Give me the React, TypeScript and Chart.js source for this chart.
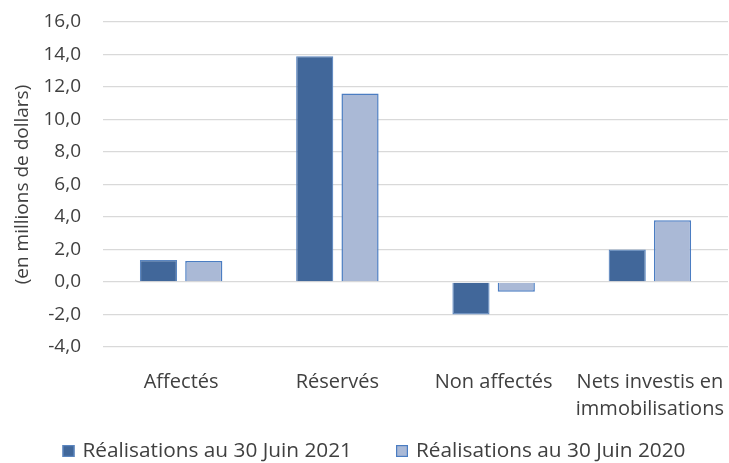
import React, { useEffect, useRef } from "react";
import { Chart, registerables } from "chart.js";

Chart.register(...registerables);

const categories: (string | string[])[] = [
  "Affectés",
  "Réservés",
  "Non affectés",
  ["Nets investis en", "immobilisations"],
];
const series2021 = [1.35, 13.9, -2.0, 2.0];
const series2020 = [1.3, 11.6, -0.6, 3.8];
const seriesLabels = ["Réalisations au 30 Juin 2021", "Réalisations au 30 Juin 2020"];
const yMin = -4;
const yMax = 16;
const yStep = 2;
const yTitle = "(en millions de dollars)";

const FONT = "'Open Sans', 'Noto Sans', sans-serif";
const TEXT = "#404040";

const bottomLegend = {
  id: "bottomLegend",
  afterDraw(chart: any) {
    const ctx = chart.ctx as CanvasRenderingContext2D;
    const items = chart.data.datasets.map((d: any) => ({
      text: d.label as string,
      fill: d.backgroundColor as string,
      stroke: d.borderColor as string,
    }));
    ctx.save();
    ctx.font = `20.8px ${FONT}`;
    const box = 12;
    const gapBoxText = 8;
    const gapItems = 44;
    const widths = items.map((it: any) => box + gapBoxText + ctx.measureText(it.text).width);
    const total = widths.reduce((a: number, b: number) => a + b, 0) + gapItems * (items.length - 1);
    let x = 374 - total / 2;
    const cy = 451;
    ctx.textBaseline = "middle";
    ctx.textAlign = "left";
    items.forEach((it: any, i: number) => {
      ctx.fillStyle = it.fill;
      ctx.fillRect(x, cy - box / 2, box, box);
      ctx.strokeStyle = it.stroke;
      ctx.lineWidth = 1.2;
      ctx.strokeRect(x + 0.6, cy - box / 2 + 0.6, box - 1.2, box - 1.2);
      ctx.fillStyle = TEXT;
      ctx.fillText(it.text, x + box + gapBoxText, cy);
      x += widths[i] + gapItems;
    });
    ctx.restore();
  },
};

export default function App() {
  const ref = useRef<HTMLCanvasElement>(null);
  useEffect(() => {
    document.body.style.margin = "0";
    const chart = new Chart(ref.current!, {
      type: "bar",
      data: {
        labels: categories,
        datasets: [
          {
            label: seriesLabels[0],
            data: series2021,
            backgroundColor: "#41679A",
            borderColor: "#5B86C0",
            borderWidth: 1.2,
            categoryPercentage: 0.58,
            barPercentage: 0.82,
          },
          {
            label: seriesLabels[1],
            data: series2020,
            backgroundColor: "#AAB9D6",
            borderColor: "#4B7DC2",
            borderWidth: 1.5,
            categoryPercentage: 0.58,
            barPercentage: 0.82,
          },
        ],
      },
      plugins: [bottomLegend],
      options: {
        animation: false,
        responsive: false,
        maintainAspectRatio: false,
        layout: { padding: { left: 11, right: 1, top: 22, bottom: 18 } },
        plugins: {
          legend: { display: false },
          tooltip: { enabled: false },
        },
        scales: {
          x: {
            grid: { display: false, drawTicks: false },
            border: { display: false },
            ticks: {
              color: TEXT,
              font: { family: FONT, size: 20, lineHeight: 1.35 },
              padding: 22,
              maxRotation: 0,
              autoSkip: false,
            },
            afterFit: (scale: any) => {
              scale.paddingLeft = 0;
              scale.paddingRight = 0;
            },
          },
          y: {
            min: yMin,
            max: yMax,
            grid: { color: "#D9D9D9", lineWidth: 1.3, drawTicks: false },
            border: { display: false },
            ticks: {
              stepSize: yStep,
              color: TEXT,
              font: { family: FONT, size: 19 },
              padding: 22,
              callback: (v: any) => Number(v).toFixed(1).replace(".", ","),
            },
            title: {
              display: true,
              text: yTitle,
              color: TEXT,
              font: { family: FONT, size: 19 },
              padding: { top: 0, bottom: 0 },
            },
            afterFit: (scale: any) => {
              scale.paddingTop = 0;
              scale.paddingBottom = 0;
              scale.width = 92;
            },
          },
        },
      },
    });
    return () => chart.destroy();
  }, []);
  return (
    <div style={{ width: 729, height: 463, background: "#fff" }}>
      <canvas ref={ref} width={729} height={463} />
    </div>
  );
}
